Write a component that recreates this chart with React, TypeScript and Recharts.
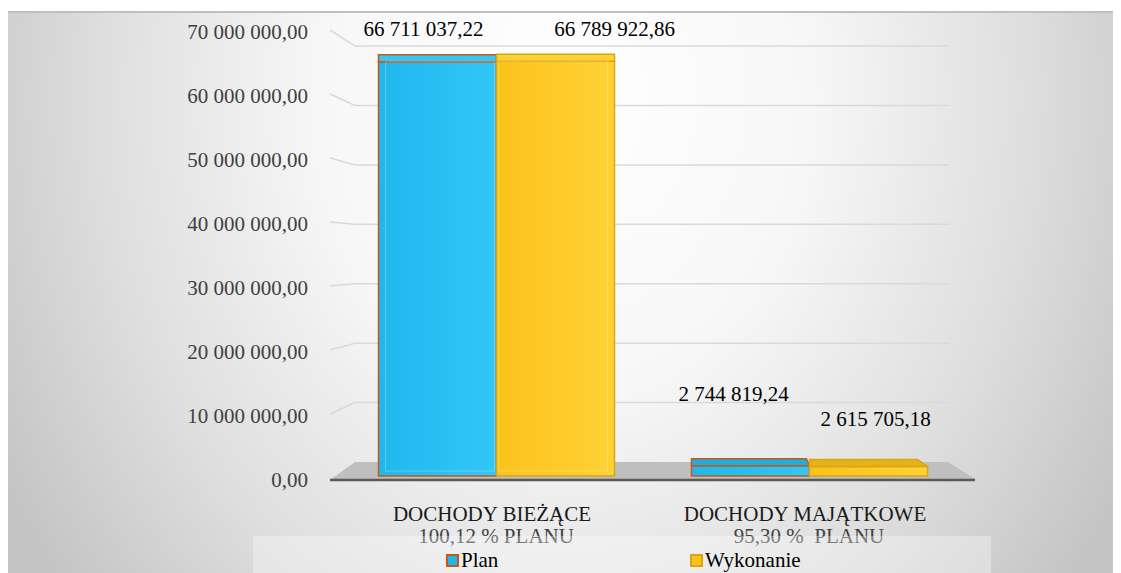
import { BarChart, Bar, XAxis, YAxis, CartesianGrid, LabelList, Legend } from 'recharts';

const categories = ['DOCHODY BIEŻĄCE', 'DOCHODY MAJĄTKOWE'];
const percentLines = ['100,12 % PLANU', '95,30 %  PLANU'];
const planValues = [66711037.22, 2744819.24];
const wykonanieValues = [66789922.86, 2615705.18];
const yTicks = [0, 10000000, 20000000, 30000000, 40000000, 50000000, 60000000, 70000000];
const seriesNames = ['Plan', 'Wykonanie'];

const data = categories.map((name, i) => ({
  name,
  plan: planValues[i],
  wykonanie: wykonanieValues[i],
}));

// layout
const W = 1113;
const H = 565;
const PLOT_TOP = 26;
const PLOT_BOTTOM = 468;
const FONT = 'Liberation Serif, Tinos, Noto Serif, DejaVu Serif, serif';

const STYLES = [
  { fill: '#20b7ee', light: '#33c6f7', top: '#22ace0', stroke: '#c55a11' },
  { fill: '#fcc21c', light: '#ffd234', top: '#e6b21a', stroke: '#d9a514' },
];

// manual label nudges (labels were dragged in the original)
const LABEL_NUDGE = [
  [{ dx: -14, dy: -19 }, { dx: -17, dy: -58 }],
  [{ dx: 59, dy: -18 }, { dx: 7, dy: -33 }],
];

const fmt = (v: number) => {
  const [int, dec] = v.toFixed(2).split('.');
  return int.replace(/\B(?=(\d{3})+(?!\d))/g, ' ') + ',' + dec;
};

// front plane of the 3d box is slightly taller than the back wall
const frontY = (y: number) => y - 2 + (6 * (y - PLOT_TOP)) / (PLOT_BOTTOM - PLOT_TOP);
const backY = (y: number) => 454 - (PLOT_BOTTOM - y) * 0.941;

function GridLine(p: any) {
  const y = p.y1;
  if (Math.abs(y - PLOT_BOTTOM) < 0.5) {
    return (
      <g key={p.key}>
        <polygon points="322,472 347,454 940,454 967,471" fill="#bfbfbf" />
        <line x1={322} y1={472} x2={967} y2={472} stroke="#595959" strokeWidth={2.5} />
      </g>
    );
  }
  const fy = frontY(y) - 2;
  const by = backY(y);
  return (
    <path
      key={p.key}
      d={`M322,${fy} L347,${by} L941,${by}`}
      fill="none"
      stroke="#d9d9d9"
      strokeWidth={1.5}
    />
  );
}

const textStyle = { fontFamily: FONT, fontSize: 21 };

function YTick(p: any) {
  return (
    <text x={300} y={frontY(p.y) + 7} textAnchor="end" style={textStyle} fill="#404040">
      {fmt(p.payload.value)}
    </text>
  );
}

function XTick(p: any) {
  const i = p.payload.index;
  return (
    <g>
      <text x={p.x - 4} y={p.y + 45} textAnchor="middle" style={textStyle} fill="#1a1a1a">
        {categories[i]}
      </text>
      <text
        x={p.x}
        y={p.y + 67}
        textAnchor="middle"
        fill="#404040"
        style={{ ...textStyle, whiteSpace: 'pre' }}
      >
        {percentLines[i]}
      </text>
    </g>
  );
}

function Bar3D(p: any) {
  const { x, y, width: w, height: h, s } = p;
  const st = STYLES[s];
  const D = 7;
  const gid = `g${s}`;
  const tall = h > 30;
  const slant = tall ? 0 : s === 0 ? 3 : 10;
  const topPts = `${x},${y} ${x + w - slant},${y} ${x + w},${y + D} ${x},${y + D}`;
  return (
    <g>
      <defs>
        <linearGradient id={gid} x1="0" y1="0" x2="1" y2="0">
          <stop offset="0%" stopColor={st.fill} />
          <stop offset="100%" stopColor={st.light} />
        </linearGradient>
      </defs>
      <rect x={x} y={y + D} width={w} height={h - D} fill={`url(#${gid})`} stroke={st.stroke} strokeWidth={1.5} />
      <polygon points={topPts} fill={tall ? st.light : st.top} stroke={st.stroke} strokeWidth={1.5} />
      {tall && (
        <rect
          x={s === 0 ? x + D : x + 2}
          y={y + D}
          width={w - D - 2}
          height={h - D - 5}
          fill="none"
          stroke="rgba(255,255,255,0.25)"
          strokeWidth={1}
        />
      )}
    </g>
  );
}

function ValueLabel(p: any) {
  const n = LABEL_NUDGE[p.s][p.index];
  return (
    <text x={p.x + p.width / 2 + n.dx} y={p.y + n.dy} textAnchor="middle" style={textStyle} fill="#000">
      {fmt(p.value)}
    </text>
  );
}

function LegendBox() {
  const items = [
    { left: 193, text: seriesNames[0], st: STYLES[0] },
    { left: 437, text: seriesNames[1], st: STYLES[1] },
  ];
  return (
    <div style={{ position: 'relative', width: 738, height: 37, background: 'rgba(255,255,255,0.32)' }}>
      {items.map((it) => (
        <div key={it.text} style={{ position: 'absolute', left: it.left, top: 14, display: 'flex', alignItems: 'center' }}>
          <span
            style={{
              display: 'inline-block',
              width: 9,
              height: 9,
              background: it.st.fill,
              border: `2.5px solid ${it.st.stroke}`,
            }}
          />
          <span style={{ fontFamily: FONT, fontSize: 21, color: '#000', marginLeft: 2, lineHeight: '20px' }}>
            {it.text}
          </span>
        </div>
      ))}
    </div>
  );
}

export default function App() {
  return (
    <div style={{ position: 'relative', width: W, height: H }}>
      <div
        style={{
          position: 'absolute',
          left: 0,
          top: 3,
          width: W,
          height: H - 3,
          borderTop: '2px solid #bfbfbf',
          boxSizing: 'border-box',
          background:
            'radial-gradient(ellipse 58% 140% at 50% 15%, #ffffff 0%, #f7f7f7 38%, #dedede 72%, #c4c4c4 100%)',
        }}
      />
      <div style={{ position: 'absolute', left: 0, top: 0 }}>
        <BarChart
          width={W}
          height={H}
          data={data}
          margin={{ top: PLOT_TOP, right: 155.5, left: 0, bottom: 37 }}
          barGap={0}
          barSize={118}
        >
          <CartesianGrid vertical={false} horizontal={(p: any) => <GridLine {...p} />} />
          <XAxis
            dataKey="name"
            height={60}
            axisLine={false}
            tickLine={false}
            tickSize={0}
            tickMargin={0}
            tick={(p: any) => <XTick {...p} />}
            interval={0}
          />
          <YAxis
            width={331.5}
            domain={[0, 70000000]}
            ticks={yTicks}
            axisLine={false}
            tickLine={false}
            tick={(p: any) => <YTick {...p} />}
          />
          <Legend
            layout="horizontal"
            verticalAlign="middle"
            align="center"
            wrapperStyle={{ position: 'absolute', left: 245, top: 528, width: 738, height: 37 }}
            content={() => <LegendBox />}
          />
          <Bar
            dataKey="plan"
            name={seriesNames[0]}
            fill={STYLES[0].fill}
            isAnimationActive={false}
            shape={(p: any) => <Bar3D {...p} s={0} />}
          >
            <LabelList dataKey="plan" content={(p: any) => <ValueLabel {...p} s={0} />} />
          </Bar>
          <Bar
            dataKey="wykonanie"
            name={seriesNames[1]}
            fill={STYLES[1].fill}
            isAnimationActive={false}
            shape={(p: any) => <Bar3D {...p} s={1} />}
          >
            <LabelList dataKey="wykonanie" content={(p: any) => <ValueLabel {...p} s={1} />} />
          </Bar>
        </BarChart>
      </div>
    </div>
  );
}
